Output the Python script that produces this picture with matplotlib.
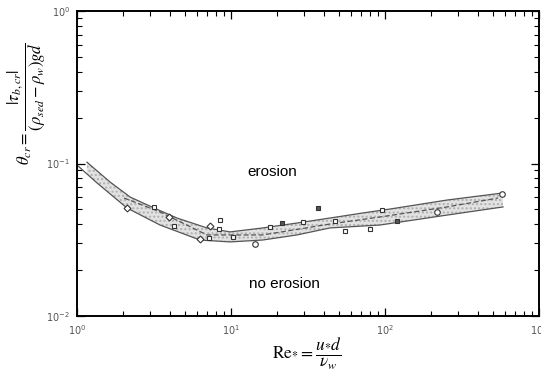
import numpy as np
import matplotlib
matplotlib.use('Agg')
import matplotlib.pyplot as plt

plt.rcParams['mathtext.fontset'] = 'stix'

# band edges
re_upper = [1.16, 1.64, 2.21, 3.16, 4.46, 6.98, 9.86, 16.1, 26.8, 43.9, 72, 108, 253, 584]
th_upper = [0.102, 0.0756, 0.0603, 0.0511, 0.0439, 0.0378, 0.0356, 0.0378, 0.0407, 0.0439, 0.0474, 0.0503, 0.0576, 0.0641]

re_lower = [1.0, 1.35, 2.11, 3.46, 6.29, 9.86, 16.1, 26.8, 43.9, 92.8, 253, 584]
th_lower = [0.0977, 0.0745, 0.0511, 0.0395, 0.0315, 0.0306, 0.0315, 0.034, 0.0378, 0.0395, 0.0459, 0.0519]

re_mid = [2.02, 3.46, 6.98, 16.1, 43.9, 92.8, 253, 542]
th_mid = [0.0594, 0.0481, 0.034, 0.034, 0.0401, 0.0446, 0.0519, 0.0594]

# measured points
sq_re = [3.16, 4.26, 8.48, 8.35, 7.19, 10.3, 17.9, 29.3, 47.3, 55, 80, 95.6]
sq_th = [0.0518, 0.0389, 0.0426, 0.0372, 0.0325, 0.033, 0.0383, 0.0413, 0.042, 0.0361, 0.0372, 0.0496]
fsq_re = [21.4, 36.7, 120]
fsq_th = [0.0407, 0.0511, 0.042]
dia_re = [2.11, 3.96, 6.29, 7.31]
dia_th = [0.0511, 0.0446, 0.032, 0.0389]
circ_re = [14.3, 218, 575]
circ_th = [0.0297, 0.0481, 0.063]

fig = plt.figure(figsize=(5.41, 3.77), dpi=100)
ax = fig.add_axes([77/541, 61/377, 462/541, 305/377])
ax.set_xscale('log')
ax.set_yscale('log')
ax.set_xlim(1, 1000)
ax.set_ylim(0.01, 1)

# shaded band: interpolate both edges on a common log grid
grid = np.logspace(np.log10(1.16), np.log10(584), 200)
up = 10 ** np.interp(np.log10(grid), np.log10(re_upper), np.log10(th_upper))
lo = 10 ** np.interp(np.log10(grid), np.log10(re_lower), np.log10(th_lower))
ax.fill_between(grid, lo, up, facecolor='#e2e2e2', edgecolor='#b0b0b0', hatch='....', lw=0)

ax.plot(re_upper, th_upper, color='#555555', lw=0.9)
ax.plot(re_lower, th_lower, color='#555555', lw=0.9)
ax.plot(re_mid, th_mid, color='#555555', lw=0.9, ls=(0, (4, 2)))

ax.plot(sq_re, sq_th, 's', ms=3.5, mfc='white', mec='#333333', mew=0.8)
ax.plot(fsq_re, fsq_th, 's', ms=3.5, mfc='#555555', mec='#333333', mew=0.8)
ax.plot(dia_re, dia_th, 'D', ms=3.5, mfc='white', mec='#333333', mew=0.8)
ax.plot(circ_re, circ_th, 'o', ms=4, mfc='white', mec='#333333', mew=0.8)

ax.text(18.5, 0.088, 'erosion', fontsize=11, family='Liberation Sans', ha='center', va='center')
ax.text(22.1, 0.0162, 'no erosion', fontsize=11, family='Liberation Sans', ha='center', va='center')

for s in ax.spines.values():
    s.set_linewidth(1.4)
ax.tick_params(which='both', direction='in', top=True, right=True, labelsize=7, labelcolor='#555555')
ax.tick_params(which='major', length=6, width=0.9)
ax.tick_params(which='minor', length=3.5, width=0.8)
ax.tick_params(axis='x', pad=5)
ax.tick_params(axis='y', pad=5)

fig.text(0.05, 0.726, r'$\theta_{cr} = \dfrac{|\tau_{b,cr}|}{(\rho_{sed}-\rho_w)gd}$',
         rotation=90, fontsize=12, ha='center', va='center')
fig.text(0.568, 0.06, r'$\mathrm{Re}_{*} = \dfrac{u_{*}d}{\nu_w}$', fontsize=12.5, ha='center', va='center')

fig.savefig('out.png', dpi=100)
